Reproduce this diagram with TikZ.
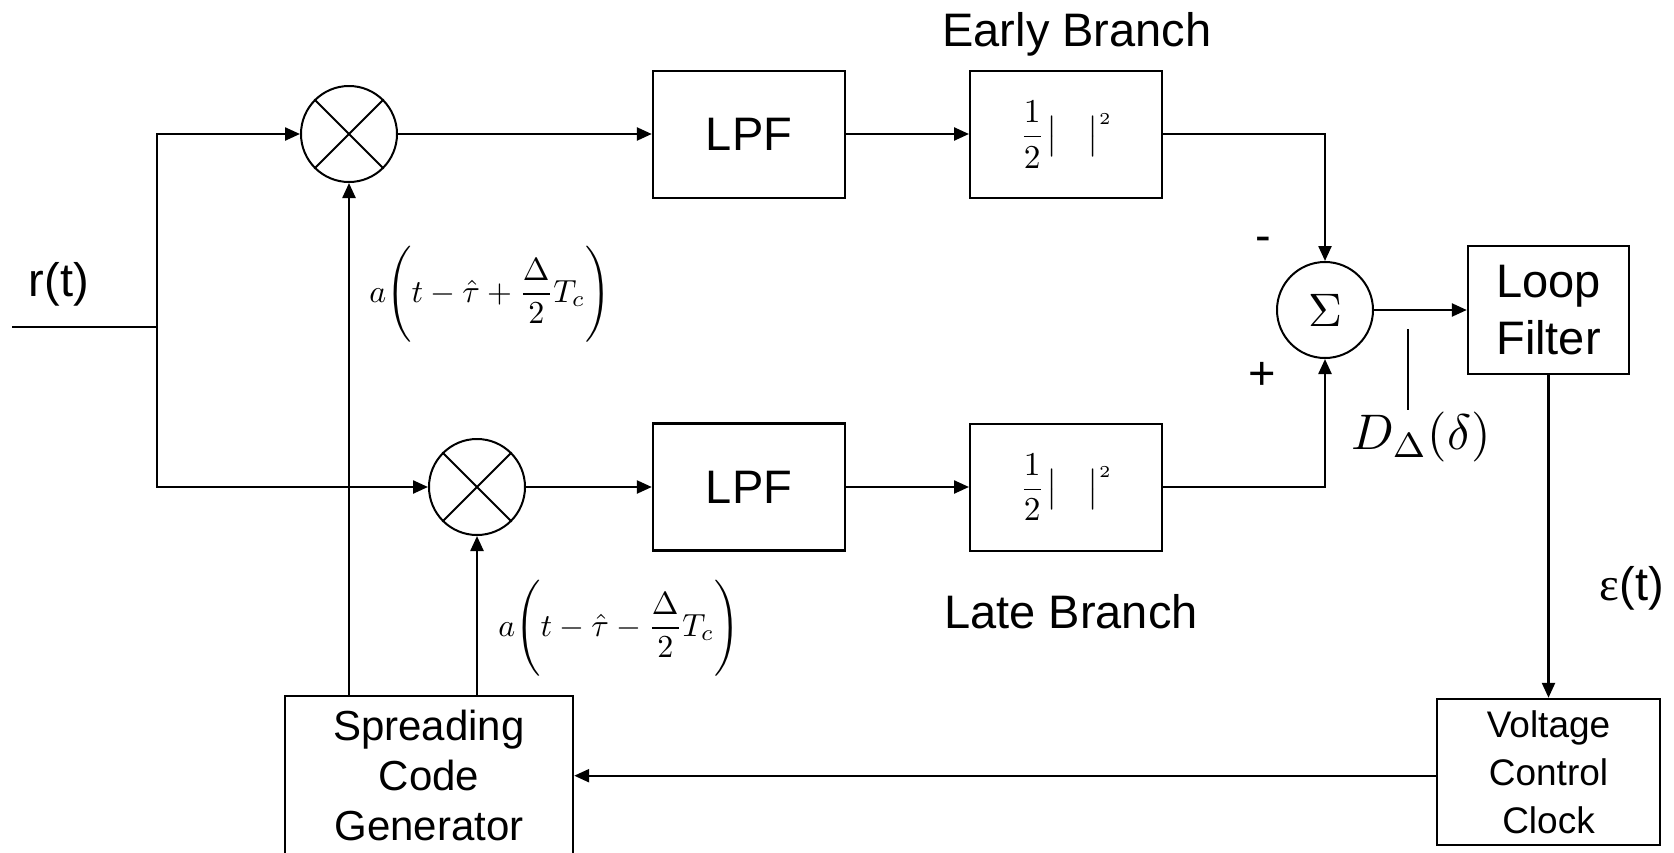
\documentclass[tikz,border=0pt]{standalone}
\usepackage{graphicx}
\usepackage{fontspec}
\setmainfont{Liberation Sans}
\newfontfamily\seriffont{Liberation Serif}
\usetikzlibrary{arrows.meta}
\newcommand{\halfsq}{\fontsize{10}{12}\selectfont\scalebox{3.34}{$\displaystyle\frac{1}{2}\hspace{0.6pt}\big\vert\hspace{9pt}\big\vert^{\scriptscriptstyle 2}$}\hspace{20pt}}
\begin{document}
\begin{tikzpicture}[x=1pt,y=-1pt,
  line width=2.4pt,
  >={Triangle[length=15pt,width=13pt]},
  box/.style={draw, rectangle, inner sep=0pt, minimum width=192pt, minimum height=127pt, font=\fontsize{47}{56}\selectfont},
  mixer/.style={draw, circle, inner sep=0pt, minimum size=96pt, line width=2pt},
  lbl/.style={font=\fontsize{47}{56}\selectfont, inner sep=0pt},
  formula/.style={inner sep=0pt, font=\fontsize{10}{12}\selectfont},
]
\useasboundingbox (0,0) rectangle (1674,852);
\clip (0,0) rectangle (1674,852);

% nodes
\node[mixer] (mE) at (349,134) {};
\draw[line width=2pt] (mE.north west) -- (mE.south east) (mE.north east) -- (mE.south west);
\node[mixer] (mL) at (477,487) {};
\draw[line width=2pt] (mL.north west) -- (mL.south east) (mL.north east) -- (mL.south west);

\node[box] (lpfE) at (749,134.5) {LPF};
\node[box] (lpfL) at (749,487) {LPF};
\node[box, line width=2pt] (sqE) at (1066,134.5) {\halfsq};
\node[box, line width=2pt] (sqL) at (1066,487) {\halfsq};

\node[mixer, font=\fontsize{10}{12}\selectfont] (sum) at (1325,310) {\scalebox{4.7}{$\Sigma$}};

\node[draw, minimum width=161pt, minimum height=128pt, align=center,
      font=\fontsize{47}{57}\selectfont, inner sep=0pt] (lf) at (1548.5,310) {Loop\\Filter};
\node[draw, minimum width=223pt, minimum height=146pt, align=center,
      font=\fontsize{37}{48}\selectfont, inner sep=0pt] (vcc) at (1548.5,772) {Voltage\\Control\\Clock};
\node[draw, minimum width=288pt, minimum height=159pt, anchor=north, align=center,
      font=\fontsize{42}{50}\selectfont, inner sep=0pt] (scg) at (429,695) {Spreading\\Code\\Generator};

% connectors
\coordinate (in) at (12,327);
\coordinate (split) at (157,327);
\draw (in) -- (split);
\draw[->] (split) |- (mE.west);
\draw[->] (split) |- (mL.west);
\draw[->] (mE.east) -- (mE.east -| lpfE.west);
\draw[->] (mL.east) -- (lpfL.west);
\draw[->] (mE.east -| lpfE.east) -- (mE.east -| sqE.west);
\draw[->] (lpfL.east) -- (sqL.west);
\draw[->] (mE.east -| sqE.east) -| (sum.north);
\draw[->] (sqL.east) -| (sum.south);
\draw[->] (sum.east) -- (lf.west);
\draw[->] (lf.south) -- (vcc.north);
\draw[->] (scg.east -| vcc.west) -- (scg.east);
\draw[->] (scg.north -| mE) -- (mE.south);
\draw[->] (scg.north -| mL) -- (mL.south);

% labels
\node[lbl, anchor=base] (rt) at (59,296) {r(t)};
\node[lbl, anchor=base] (early) at (1077,46) {Early Branch};
\node[lbl, anchor=base] (late) at (1071,628) {Late Branch};
\node[lbl, anchor=base] (eps) at (1632,600) {{\seriffont ε}(t)};
\node[lbl] (minus) at (1263,244) {-};
\node[lbl] (plus) at (1262,376) {+};

\node[formula] (fE) at (490,294) {\scalebox{3.2}{$a\Biggl(t-\hat{\tau}+\displaystyle\frac{\Delta}{2}T_c\Biggr)$}};
\node[formula] (fL) at (619,628) {\scalebox{3.2}{$a\Biggl(t-\hat{\tau}-\displaystyle\frac{\Delta}{2}T_c\Biggr)$}};

\node[formula] (dd) at (1421,437) {\scalebox{5}{$D_\Delta(\delta)$}};
\coordinate (tickTop) at (1408,329);
\coordinate (tickBot) at (1408,410);
\draw[line width=1.3pt] (tickTop) -- (tickBot);
\end{tikzpicture}
\end{document}
